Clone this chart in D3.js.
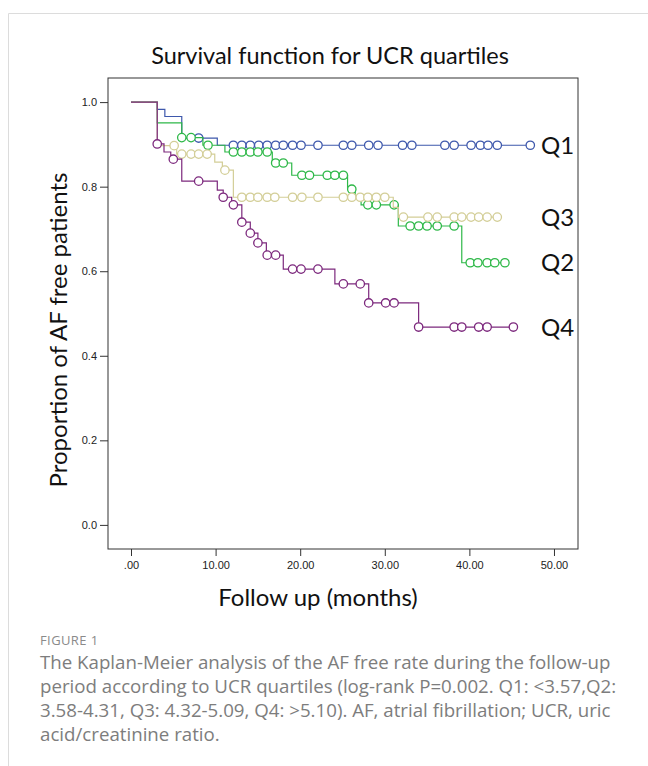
<!DOCTYPE html>
<html>
  <head>
    <title>Survival function for UCR quartiles</title>
    <script src="https://d3js.org/d3.v7.min.js"></script>
    <style>
      body {
        margin: 0;
        background: #ffffff;
      }
      .frame {
        stroke: #dcdcdc;
        stroke-width: 1px;
      }
      .chart__title {
        font-family: Lato, sans-serif;
        font-size: 23.5px;
        text-anchor: middle;
        fill: #111111;
      }
      .axis .tick line {
        stroke: #333333;
        stroke-width: 1px;
      }
      .axis .tick text {
        font-family: "Liberation Sans", Arial, sans-serif;
        font-size: 11px;
        fill: #222222;
      }
      .axis .domain {
        display: none;
      }
      .axis__label {
        font-family: Lato, sans-serif;
        font-size: 24px;
        text-anchor: middle;
        fill: #111111;
      }
      .box {
        fill: none;
        stroke: #333333;
        stroke-width: 1px;
      }
      .curve {
        fill: none;
        stroke-width: 1.2px;
      }
      .censor {
        fill: #ffffff;
        stroke-width: 1.3px;
      }
      .curve__label {
        font-family: Lato, sans-serif;
        font-size: 24px;
        fill: #111111;
      }
      .caption__head {
        font-family: "Open Sans", sans-serif;
        font-size: 13px;
        fill: #8a8a8a;
      }
      .caption__line {
        font-family: "Open Sans", sans-serif;
        font-size: 17.5px;
        fill: #7d7d7d;
      }
    </style>
  </head>
  <body>
    <svg width="648" height="766"></svg>
    <script>
      const quartiles = ["Q1", "Q2", "Q3", "Q4"];
      const colors = ["#3e58ac", "#2eb848", "#d3ce97", "#7c287d"];

      // step times (months) and the survival reached at each step
      const q1Times = [0, 3.1, 4.0, 6.0, 10.2];
      const q1Values = [1.0, 0.983, 0.966, 0.915, 0.898];
      const q1Censored = [8.0, 12.1, 13.1, 14.1, 15.1, 16.1, 17.1, 18.0, 19.1, 20.1, 22.1, 25.1, 26.1,
        28.1, 29.2, 32.1, 33.2, 37.1, 38.2, 40.2, 41.3, 42.2, 43.3, 47.2];

      const q2Times = [0, 3.1, 6.0, 8.5, 11.1, 16.7, 19.0, 25.6, 26.5, 27.2, 31.6, 39.1];
      const q2Values = [1.0, 0.951, 0.916, 0.898, 0.882, 0.856, 0.827, 0.794, 0.775, 0.757, 0.707, 0.620];
      const q2Censored = [6.0, 7.1, 9.1, 12.1, 13.1, 14.1, 15.0, 16.1, 17.1, 18.0, 20.2, 21.1, 23.2, 24.1,
        25.1, 26.1, 28.0, 29.0, 31.1, 33.0, 34.0, 35.0, 36.2, 38.2, 40.1, 41.0, 42.1, 43.0, 44.2];

      const q3Times = [0, 3.1, 5.4, 9.9, 10.8, 12.1, 31.0, 31.6];
      const q3Values = [1.0, 0.897, 0.877, 0.858, 0.839, 0.775, 0.751, 0.728];
      const q3Censored = [5.1, 6.0, 7.1, 8.0, 9.0, 11.1, 13.1, 14.1, 15.0, 16.1, 17.0, 19.1, 20.2, 22.1,
        25.1, 26.1, 27.1, 28.0, 29.0, 30.0, 32.2, 35.1, 36.2, 38.2, 39.1, 40.2, 41.1, 42.1, 43.3];

      const q4Times = [0, 3.1, 3.9, 4.7, 6.0, 10.2, 10.9, 11.9, 13.1, 14.1, 15.0, 16.0, 18.0, 24.1, 28.1, 34.0];
      const q4Values = [1.0, 0.901, 0.882, 0.865, 0.813, 0.792, 0.775, 0.757, 0.716, 0.690, 0.667, 0.638,
        0.605, 0.570, 0.525, 0.468];
      const q4Censored = [3.1, 5.0, 8.0, 10.9, 12.1, 13.1, 14.1, 15.0, 16.1, 17.1, 19.1, 20.1, 22.1, 25.1,
        27.1, 28.1, 30.1, 31.1, 34.0, 38.2, 39.1, 41.1, 42.1, 45.2];

      const xTicks = [0, 10, 20, 30, 40, 50];
      const yTicks = [0, 0.2, 0.4, 0.6, 0.8, 1.0];

      const captionHead = "FIGURE 1";
      const captionLines = [
        "The Kaplan-Meier analysis of the AF free rate during the follow-up",
        "period according to UCR quartiles (log-rank P=0.002. Q1: <3.57,Q2:",
        "3.58-4.31, Q3: 4.32-5.09, Q4: >5.10). AF, atrial fibrillation; UCR, uric",
        "acid/creatinine ratio."
      ];

      function survivalAt(times, values, t){
        return values[d3.bisectRight(times, t) - 1];
      }

      function buildSeries(){
        const all = [
          [q1Times, q1Values, q1Censored],
          [q2Times, q2Values, q2Censored],
          [q3Times, q3Values, q3Censored],
          [q4Times, q4Values, q4Censored]
        ];
        return all.map(([times, values, censored], i) => {
          const end = d3.max(censored);
          const steps = times.map((t, j) => ({t, s: values[j]}));
          steps.push({t: end, s: values[values.length - 1]});
          return {
            name: quartiles[i],
            color: colors[i],
            steps,
            censor: censored.map(t => ({t, s: survivalAt(times, values, t)})),
            last: values[values.length - 1]
          };
        });
      }

      function survivalPlot(selection, props){
        const series = props.series;
        const margin = props.margin;
        const innerWidth = props.width - margin.left - margin.right;
        const innerHeight = props.height - margin.top - margin.bottom;

        const xScale = d3.scaleLinear()
          .domain(props.xDomain)
          .range([0, innerWidth]);
        const yScale = d3.scaleLinear()
          .domain(props.yDomain)
          .range([innerHeight, 0]);

        const g = selection.append("g")
          .attr("transform", `translate(${margin.left}, ${margin.top})`);

        g.append("g")
          .attr("class", "axis axis--x")
          .attr("transform", `translate(0, ${innerHeight})`)
          .call(d3.axisBottom(xScale)
            .tickValues(xTicks)
            .tickSize(7)
            .tickPadding(5)
            .tickFormat(d => d === 0 ? ".00" : d3.format(".2f")(d)));

        g.append("g")
          .attr("class", "axis axis--y")
          .call(d3.axisLeft(yScale)
            .tickValues(yTicks)
            .tickSize(8)
            .tickPadding(3)
            .tickFormat(d3.format(".1f")));

        g.append("rect")
          .attr("class", "box")
          .attr("width", innerWidth)
          .attr("height", innerHeight);

        const line = d3.line()
          .x(d => xScale(d.t))
          .y(d => yScale(d.s))
          .curve(d3.curveStepAfter);

        const groups = g.selectAll(".series")
          .data(series)
          .enter().append("g")
            .attr("class", "series");

        groups.append("path")
          .attr("class", "curve")
          .attr("stroke", d => d.color)
          .attr("d", d => line(d.steps));

        groups.selectAll("circle")
          .data(d => d.censor.map(c => Object.assign({color: d.color}, c)))
          .enter().append("circle")
            .attr("class", "censor")
            .attr("cx", d => xScale(d.t))
            .attr("cy", d => yScale(d.s))
            .attr("r", 4.2)
            .attr("stroke", d => d.color);

        g.selectAll(".curve__label")
          .data(series)
          .enter().append("text")
            .attr("class", "curve__label")
            .attr("x", innerWidth - 37)
            .attr("y", d => yScale(d.last))
            .attr("dy", "0.36em")
            .text(d => d.name);

        g.append("text")
          .attr("class", "chart__title")
          .attr("x", innerWidth / 2 - 13)
          .attr("y", -14)
          .text(props.title);

        g.append("text")
          .attr("class", "axis__label")
          .attr("x", innerWidth / 2 - 25)
          .attr("y", innerHeight + 57)
          .text(props.xLabel);

        g.append("text")
          .attr("class", "axis__label")
          .attr("transform", "rotate(-90)")
          .attr("x", -252)
          .attr("y", -41)
          .text(props.yLabel);
      }

      function caption(selection, props){
        const g = selection.append("g")
          .attr("transform", `translate(${props.x}, ${props.y})`);
        g.append("text")
          .attr("class", "caption__head")
          .attr("letter-spacing", "0.4px")
          .text(props.head);
        const lines = g.selectAll(".caption__line")
          .data(props.lines)
          .enter().append("text")
            .attr("class", "caption__line")
            .attr("y", (d, i) => 24 + i * props.lineHeight)
            .text(d => d);

        // scale the caption font so the first line fills the column
        const first = lines.node();
        const measured = first.getComputedTextLength();
        const size = parseFloat(getComputedStyle(first).fontSize);
        lines.style("font-size", `${size * props.firstLineWidth / measured}px`);
      }

      function main(){
        const svg = d3.select("svg");
        const width = +svg.attr("width");
        const height = +svg.attr("height");

        svg.append("line").attr("class", "frame")
          .attr("x1", 8.5).attr("y1", 13.5).attr("x2", width).attr("y2", 13.5);
        svg.append("line").attr("class", "frame")
          .attr("x1", 8.5).attr("y1", 13.5).attr("x2", 8.5).attr("y2", height);

        svg.call(survivalPlot, {
          series: buildSeries(),
          width,
          height: 549 + 217,
          margin: {top: 78, right: 70, bottom: 217, left: 108},
          xDomain: [-2.72, 52.84],
          yDomain: [-0.057, 1.057],
          title: "Survival function for UCR quartiles",
          xLabel: "Follow up (months)",
          yLabel: "Proportion of AF free patients"
        });

        svg.call(caption, {
          x: 40,
          y: 645,
          head: captionHead,
          lines: captionLines,
          lineHeight: 24,
          firstLineWidth: 571
        });
      }
      main();
    </script>
  </body>
</html>
